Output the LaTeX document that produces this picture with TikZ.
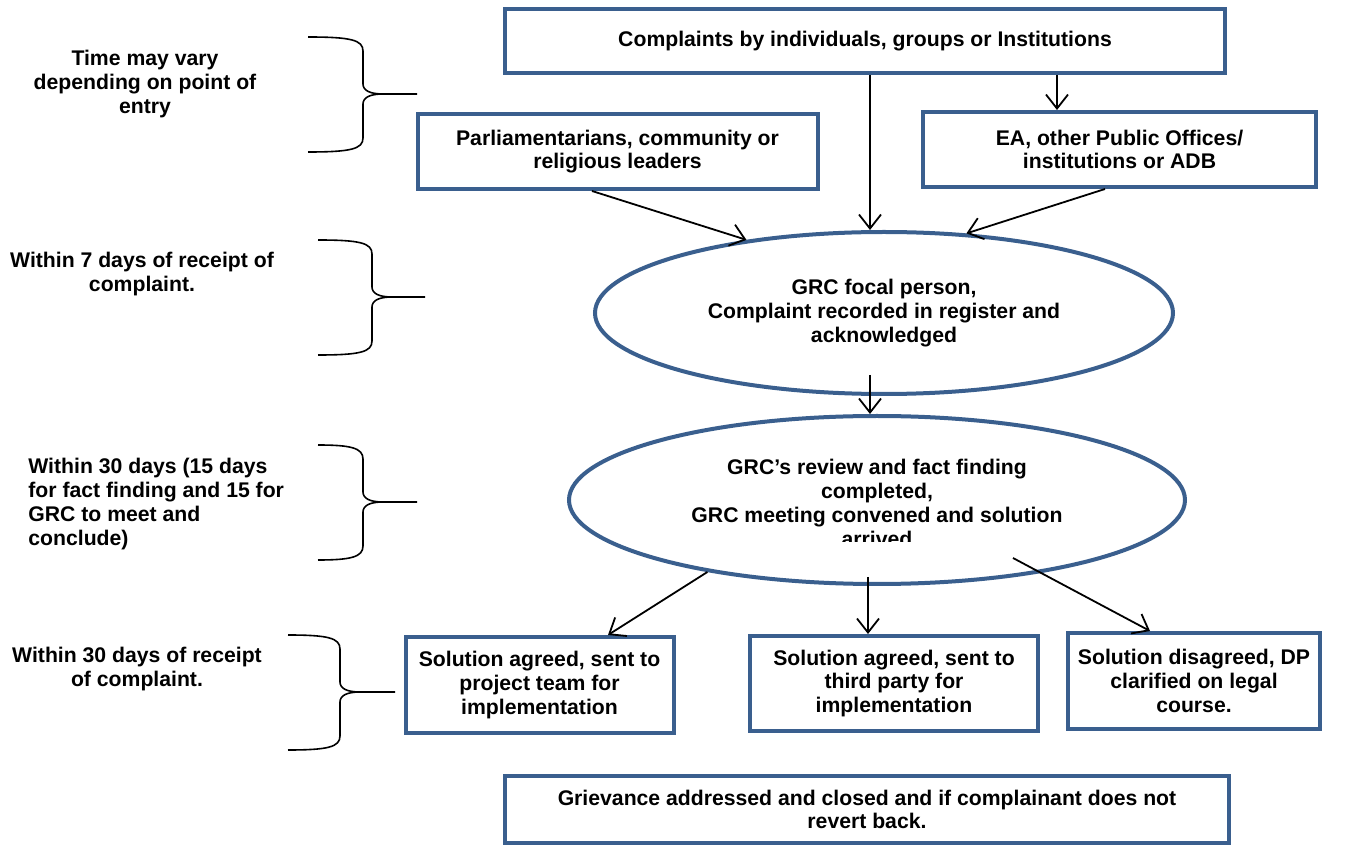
\documentclass[tikz,border=0pt]{standalone}
\usepackage{fontspec}
\setmainfont{Liberation Sans}
\usetikzlibrary{arrows.meta,shapes.geometric}
\definecolor{frameblue}{HTML}{3A5F8E}

\begin{document}
\begin{tikzpicture}[x=0.5pt,y=-0.5pt,font=\bfseries\fontsize{10.6}{11.9}\selectfont]
  \tikzset{box/.style={draw=frameblue, line width=2pt, align=center, inner sep=0pt}}
  \tikzset{oval/.style={box, ellipse}}
  \tikzset{arr/.style={-{Straight Barb[length=7pt,width=11pt]}, line width=0.9pt}}
  \tikzset{note/.style={align=center, inner sep=0pt}}
  \clip (0,0) rectangle (1357,845);

  % flow boxes
  \node[box, minimum width=360pt, minimum height=32pt] (top) at (865,41.5)
    {Complaints by individuals, groups or Institutions};
  \node[box, minimum width=200pt, minimum height=37.5pt] (parl) at (617.5,151.5)
    {Parliamentarians, community or\\religious leaders};
  \node[box, minimum width=196.5pt, minimum height=37.5pt] (ea) at (1119.5,149.5)
    {EA, other Public Offices/\\institutions or ADB};
  \node[oval, minimum width=289pt, minimum height=81pt] (grc1) at (884,313)
    {GRC focal person,\\Complaint recorded in register and\\acknowledged};
  \node[oval, minimum width=308pt, minimum height=84pt] (grc2) at (877,500) {};
  \begin{scope}
    \clip (560,400) rectangle (1200,542);
    \node[note] (grc2txt) at (877,503)
      {GRC's review and fact finding\\completed,\\GRC meeting convened and solution\\arrived};
  \end{scope}
  \node[box, minimum width=134pt, minimum height=48pt] (solA) at (539.5,685)
    {Solution agreed, sent to\\project team for\\implementation};
  \node[box, minimum width=144pt, minimum height=47.5pt] (solB) at (894,683.5)
    {Solution agreed, sent to\\third party for\\implementation};
  \node[box, minimum width=126pt, minimum height=48pt] (solC) at (1194,681)
    {Solution disagreed, DP\\clarified on legal\\course.};
  \node[box, minimum width=362pt, minimum height=33.5pt] (closed) at (867,809.5)
    {Grievance addressed and closed and if complainant does not\\revert back.};

  % connectors
  \coordinate (topout) at ([xshift=2.5pt]top.south);
  \coordinate (eaout) at ([xshift=96pt]top.south);
  \coordinate (grc1out) at ([xshift=-7pt,yshift=10.5pt]grc1.south);
  \coordinate (grc2out) at ([xshift=-4.5pt,yshift=4.5pt]grc2.south);
  \draw[arr] (topout) -- (topout |- grc1.north);
  \draw[arr] (eaout) -- (eaout |- ea.north);
  \draw[arr] ([xshift=-12.75pt]parl.south) -- (grc1.152);
  \draw[arr] ([xshift=-7.25pt]ea.south) -- (grc1.44);
  \draw[arr] (grc1out) -- (grc1out |- grc2.north);
  \draw[arr] (grc2.203) -- ([xshift=34.25pt]solA.north);
  \draw[arr] (grc2out) -- (grc2out |- solB.north);
  \draw[arr] ([shift={(68pt,-29pt)}]grc2.center) -- ([xshift=-22pt]solC.north);

  % time notes and braces
  \node[note] (time1) at (145,84) {Time may vary\\depending on point of\\entry};
  \node[note] (time2) at (142,274) {Within 7 days of receipt of\\complaint.};
  \node[note, anchor=west, align=left] (time3) at (28,504)
    {Within 30 days (15 days\\for fact finding and 15 for\\GRC to meet and\\conclude)};
  \node[note] (time4) at (137,669) {Within 30 days of receipt\\of complaint.};
  \foreach \xa/\xb/\xc/\ya/\yb/\yc in {308/363/417/37/94/152, 318/372/425/240/297/355,
      318/363/417/445/502/560, 288/340/395/635/692/750}
    \draw[line width=0.8pt] (\xa,\ya) .. controls (\xb-12,\ya) and (\xb,\ya+3) .. (\xb,\ya+14)
      -- (\xb,\yb-10) .. controls (\xb,\yb-3) and (\xb+8,\yb) .. (\xb+20,\yb) -- (\xc,\yb)
      (\xb+20,\yb) .. controls (\xb+8,\yb) and (\xb,\yb+3) .. (\xb,\yb+10)
      -- (\xb,\yc-14) .. controls (\xb,\yc-3) and (\xb-12,\yc) .. (\xa,\yc);
\end{tikzpicture}
\end{document}
